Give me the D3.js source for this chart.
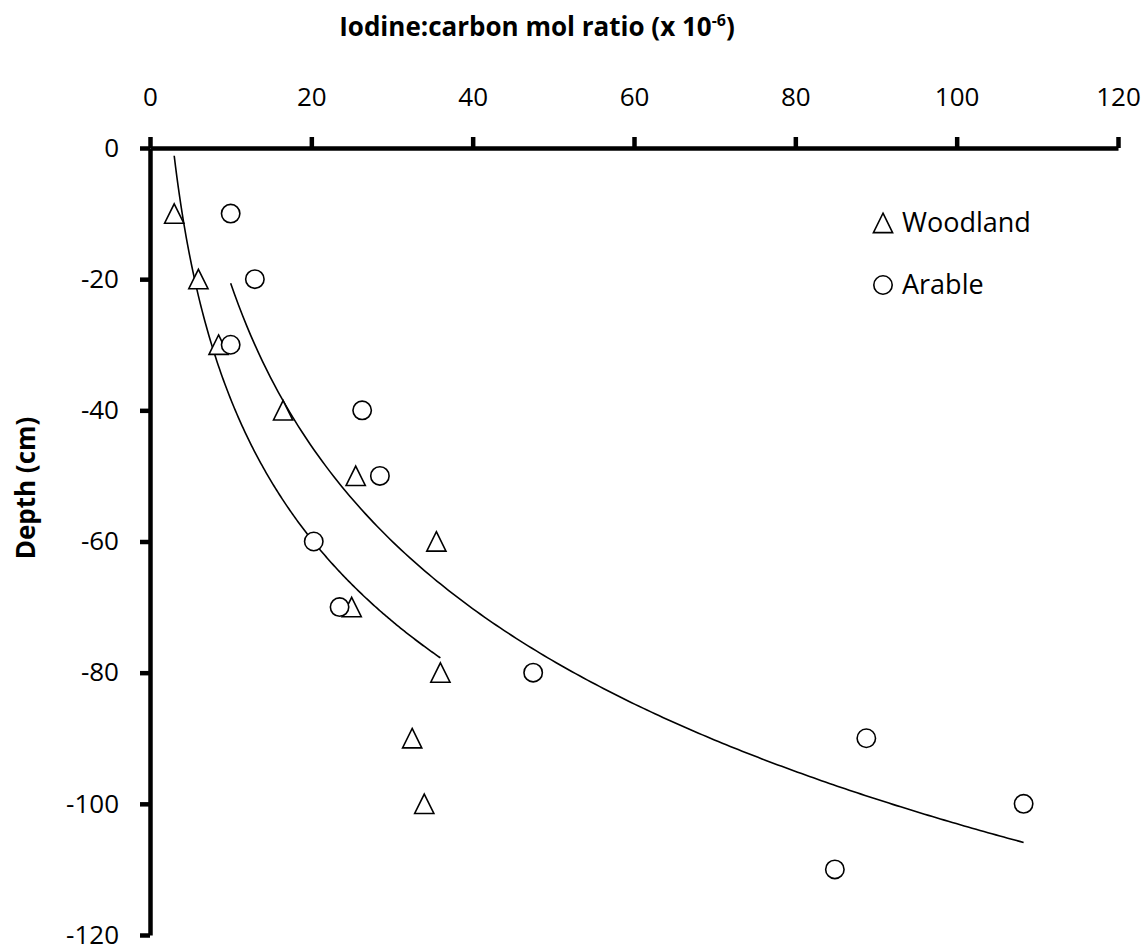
<!DOCTYPE html>
<html>
<head>
<meta charset="utf-8">
<script src="https://cdn.jsdelivr.net/npm/d3@7"></script>
<style>
  body { margin: 0; background: #fff; }
  text { font-family: "Open Sans", sans-serif; fill: #000; }
</style>
</head>
<body>
<script>
// iodine:carbon ratio (x 10^-6) against depth (cm)
var woodlandRatio = [3, 6, 8.5, 16.5, 25.5, 35.5, 25, 36, 32.5, 34];
var woodlandDepth = [-10, -20, -30, -40, -50, -60, -70, -80, -90, -100];
var arableRatio = [10, 13, 10, 26.3, 28.5, 20.3, 23.5, 47.5, 88.8, 108.3, 84.9];
var arableDepth = [-10, -20, -30, -40, -50, -60, -70, -80, -90, -100, -110];
var seriesNames = ["Woodland", "Arable"];
var xTicks = [0, 20, 40, 60, 80, 100, 120];
var yTicks = [0, -20, -40, -60, -80, -100, -120];

var width = 1146, height = 952;

var svg = d3.select('body').append('svg')
    .attr('width', width)
    .attr('height', height);

var x = d3.scaleLinear().domain([0, 120]).range([150, 1118]);
var y = d3.scaleLinear().domain([-120, 0]).range([935, 148]);

// excel style log trendline: depth = a*ln(ratio) + b, least squares
function logFit(xs, ys) {
    var lx = xs.map(Math.log);
    var mx = d3.mean(lx), my = d3.mean(ys);
    var sxy = d3.sum(lx, function(v, i) { return (v - mx) * (ys[i] - my); });
    var sxx = d3.sum(lx, function(v) { return (v - mx) * (v - mx); });
    var a = sxy / sxx;
    var b = my - a * mx;
    var lo = d3.min(xs), hi = d3.max(xs);
    var pts = [];
    for (var i = 0; i <= 200; i++) {
        var xv = lo + (hi - lo) * i / 200;
        pts.push([xv, a * Math.log(xv) + b]);
    }
    return pts;
}

var line = d3.line()
    .x(function(d) { return x(d[0]); })
    .y(function(d) { return y(d[1]); });

var trends = [logFit(woodlandRatio, woodlandDepth), logFit(arableRatio, arableDepth)];
svg.selectAll('path.trend').data(trends).enter().append('path')
    .attr('class', 'trend')
    .attr('d', line)
    .attr('fill', 'none')
    .attr('stroke', '#000')
    .attr('stroke-width', 1.6);

// axes
var fmt = function(d) { return String(d); }; // plain hyphen minus like the original
var xAxis = d3.axisTop(x).tickValues(xTicks).tickFormat(fmt).tickSizeInner(11).tickSizeOuter(0).tickPadding(31);
var yAxis = d3.axisLeft(y).tickValues(yTicks).tickFormat(fmt).tickSizeInner(10).tickSizeOuter(0).tickPadding(21);

var gy = svg.append('g').attr('transform', 'translate(' + x(0) + ',0)').call(yAxis);
var gx = svg.append('g').attr('transform', 'translate(0,' + y(0) + ')').call(xAxis);

[gx, gy].forEach(function(g) {
    g.select('.domain').attr('stroke', '#000').attr('stroke-width', 4.5);
    g.selectAll('.tick line').attr('stroke', '#000').attr('stroke-width', 4.5);
    g.selectAll('.tick text').style('font-size', '26px').attr('fill', '#000');
});

// markers
function triangle(sel) {
    sel.attr('d', 'M0,-9.8L9.6,9.6L-9.6,9.6Z')
        .attr('fill', '#fff')
        .attr('stroke', '#000')
        .attr('stroke-width', 1.6);
}

svg.selectAll('path.wood').data(woodlandRatio).enter().append('path')
    .attr('class', 'wood')
    .attr('transform', function(d, i) { return 'translate(' + x(d) + ',' + y(woodlandDepth[i]) + ')'; })
    .call(triangle);

svg.selectAll('circle.arable').data(arableRatio).enter().append('circle')
    .attr('class', 'arable')
    .attr('cx', function(d) { return x(d); })
    .attr('cy', function(d, i) { return y(arableDepth[i]); })
    .attr('r', 9.2)
    .attr('fill', '#fff')
    .attr('stroke', '#000')
    .attr('stroke-width', 1.6);

// legend
var legend = svg.selectAll('g.legend').data(seriesNames).enter().append('g')
    .attr('class', 'legend')
    .attr('transform', function(d, i) { return 'translate(883,' + (223 + i * 62) + ')'; });

legend.filter(function(d, i) { return i === 0; }).append('path').call(triangle);
legend.filter(function(d, i) { return i === 1; }).append('circle')
    .attr('r', 9.2)
    .attr('fill', '#fff')
    .attr('stroke', '#000')
    .attr('stroke-width', 1.6);
legend.append('text')
    .attr('x', 19)
    .attr('y', 9)
    .style('font-size', '27px')
    .text(function(d) { return d; });

// titles
var title = svg.append('text')
    .attr('x', 537)
    .attr('y', 36)
    .attr('text-anchor', 'middle')
    .style('font-size', '26px')
    .style('font-weight', 'bold');
title.append('tspan').text('Iodine:carbon mol ratio (x 10');
title.append('tspan').attr('dy', -10).style('font-size', '16px').text('-6');
title.append('tspan').attr('dy', 10).text(')');

svg.append('text')
    .attr('transform', 'translate(35,488) rotate(-90)')
    .attr('text-anchor', 'middle')
    .style('font-size', '26px')
    .style('font-weight', 'bold')
    .text('Depth (cm)');
</script>
</body>
</html>
